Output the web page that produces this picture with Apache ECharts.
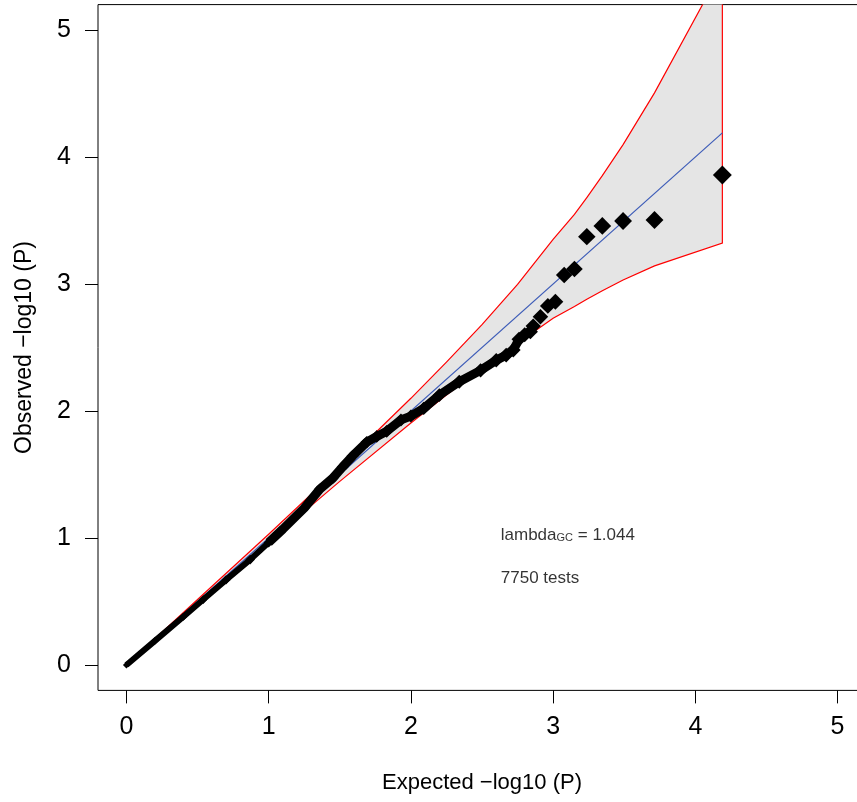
<!DOCTYPE html>
<html>
<head>
<meta charset="utf-8">
<title>QQ plot</title>
<script src="https://cdn.jsdelivr.net/npm/echarts@6/dist/echarts.min.js"></script>
<style>
  html, body { margin: 0; padding: 0; background: #fff; overflow: hidden; }
  /* a bit wider than the window: the right side of the box is cut off */
  #chart { width: 867px; height: 802px; }
</style>
</head>
<body>
<div id="chart"></div>
<script>
// tick positions on both axes
const tickValues = [0, 1, 2, 3, 4, 5];

// 95% band, read at the expected quantiles
const bandX = [0, 0.5, 1.0, 1.5, 2.0, 2.25, 2.5, 2.75, 3.0, 3.15, 3.237, 3.346, 3.492, 3.713, 4.19];
const bandUpper = [0, 0.516, 1.03, 1.555, 2.10, 2.385, 2.68, 2.997, 3.351, 3.548, 3.68, 3.853, 4.098, 4.505, 5.486];
const bandLower = [0, 0.484, 0.971, 1.446, 1.906, 2.126, 2.336, 2.533, 2.73, 2.823, 2.88, 2.947, 3.031, 3.143, 3.322];

// dense part of the observed points (they merge into a thick line)
const denseX = [0, 0.2, 0.4, 0.54, 0.7, 0.87, 1.0, 1.1, 1.25, 1.36, 1.45, 1.52, 1.59, 1.69, 1.76, 1.83, 1.93, 2.0, 2.09, 2.2, 2.34, 2.49, 2.6, 2.67, 2.72, 2.76, 2.8, 2.84];
const denseY = [0, 0.19, 0.38, 0.515, 0.67, 0.83, 0.965, 1.07, 1.235, 1.385, 1.47, 1.56, 1.645, 1.755, 1.8, 1.84, 1.93, 1.96, 2.02, 2.125, 2.23, 2.32, 2.40, 2.44, 2.48, 2.565, 2.6, 2.625];

// the separate points at the top
const tailX = [2.86, 2.911, 2.963, 3.016, 3.078, 3.15, 3.237, 3.346, 3.492, 3.713, 4.19];
const tailY = [2.669, 2.743, 2.827, 2.86, 3.071, 3.118, 3.373, 3.457, 3.496, 3.504, 3.858];

// y = x line, up to the largest expected value
const diagX = [0, 4.19];

const lambdaGC = '1.044';
const nTests = 7750;

const font = '"Liberation Sans", Arial, Helvetica, sans-serif';

const zip = (xs, ys) => xs.map((x, i) => [x, ys[i]]);
const densePts = zip(denseX, denseY);
const tailPts = zip(tailX, tailY);
const bandPoly = zip(bandX, bandUpper).concat(zip(bandX, bandLower).reverse());

const chart = echarts.init(document.getElementById('chart'));

chart.setOption({
  animation: false,
  textStyle: { fontFamily: font },
  grid: {
    left: 98,
    right: 1,
    top: 4.6,
    bottom: 111.6,
    show: true,
    borderColor: '#000',
    borderWidth: 1,
    backgroundColor: 'transparent'
  },
  xAxis: {
    type: 'value',
    min: -0.2,
    max: 5.2,
    name: 'Expected \u2212log10 (P)',
    nameLocation: 'middle',
    nameGap: 82,
    nameTextStyle: { fontSize: 22, color: '#000' },
    axisLine: { show: false, onZero: false },
    axisTick: { show: true, customValues: tickValues, length: 13, lineStyle: { color: '#000' } },
    axisLabel: { customValues: tickValues, fontSize: 25, color: '#000', margin: 24 },
    splitLine: { show: false }
  },
  yAxis: {
    type: 'value',
    min: -0.2,
    max: 5.2,
    name: 'Observed \u2212log10 (P)',
    nameLocation: 'middle',
    nameRotate: 90,
    nameGap: 62,
    nameTextStyle: { fontSize: 23, color: '#000' },
    axisLine: { show: false, onZero: false },
    axisTick: { show: true, customValues: tickValues, length: 13, lineStyle: { color: '#000' } },
    axisLabel: { customValues: tickValues, fontSize: 25, color: '#000', margin: 27 },
    splitLine: { show: false }
  },
  series: [
    {
      // grey band with red border
      type: 'custom',
      clip: true,
      silent: true,
      z: 1,
      data: [[0, 0]],
      renderItem: (params, api) => ({
        type: 'polygon',
        shape: { points: bandPoly.map((p) => api.coord(p)) },
        style: { fill: '#e5e5e5', stroke: '#ff0000', lineWidth: 1.2 }
      })
    },
    {
      type: 'line',
      z: 2,
      silent: true,
      symbol: 'none',
      data: diagX.map((v) => [v, v]),
      lineStyle: { color: '#3d5cb8', width: 1.2 }
    },
    {
      type: 'line',
      z: 3,
      silent: true,
      symbol: 'none',
      data: densePts.filter((p) => p[0] <= 1.0),
      lineStyle: { color: '#000', width: 6 }
    },
    {
      type: 'line',
      z: 3,
      silent: true,
      symbol: 'none',
      data: densePts.filter((p) => p[0] >= 1.0),
      lineStyle: { color: '#000', width: 9 }
    },
    {
      type: 'scatter',
      z: 4,
      silent: true,
      symbol: 'diamond',
      symbolSize: (v) => 7 + 3.1 * v[1],
      data: densePts.concat(tailPts),
      itemStyle: { color: '#000', opacity: 1 }
    },
    {
      // text notes
      type: 'scatter',
      z: 5,
      silent: true,
      symbolSize: 0,
      data: [[2.632, 1.02], [2.632, 0.685]],
      label: {
        show: true,
        position: 'right',
        distance: 0,
        fontSize: 17,
        color: '#000',
        formatter: (p) => (p.dataIndex === 0 ? 'lambda{sub|GC} = ' + lambdaGC : nTests + ' tests'),
        rich: {
          sub: { fontSize: 11, verticalAlign: 'bottom', color: '#000' }
        }
      }
    }
  ]
});
</script>
</body>
</html>
